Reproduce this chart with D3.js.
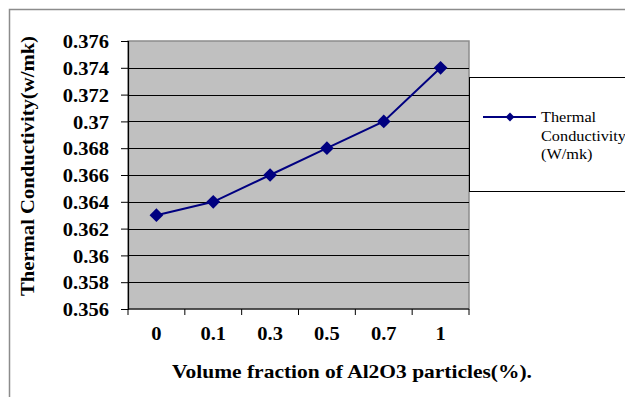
<!DOCTYPE html>
<html lang="en">
<head>
<meta charset="UTF-8">
<title>Thermal Conductivity</title>
<script src="https://cdnjs.cloudflare.com/ajax/libs/d3/7.8.5/d3.min.js"></script>
<style>
  body { margin: 0; background: #fff; }
  svg text { font-family: 'Liberation Serif', 'Times New Roman', Times, serif !important; fill: #000; }
</style>
</head>
<body>
<svg id="chart" width="625" height="397"></svg>
<script>
// data
const categories = ['0', '0.1', '0.3', '0.5', '0.7', '1'];
const conductivity = [0.363, 0.364, 0.366, 0.368, 0.370, 0.374];
const yTicks = [0.356, 0.358, 0.36, 0.362, 0.364, 0.366, 0.368, 0.37, 0.372, 0.374, 0.376];
const seriesName = ['Thermal', 'Conductivity', '(W/mk)'];

const svg = d3.select('#chart');
const plot = { left: 128, right: 469, top: 41, bottom: 309 };

// the reference font renders a bit wider than ours, stretch glyphs a little
function stretch(sel, k) {
    sel.each(function () {
        const w = this.getComputedTextLength();
        d3.select(this).attr('textLength', w * k).attr('lengthAdjust', 'spacingAndGlyphs');
    });
}

// outer frame
svg.append('path')
    .attr('d', 'M9.5,397 V9.5 H625')
    .attr('fill', 'none')
    .attr('stroke', '#8c8c8c')
    .attr('stroke-width', 1.5);

const x = d3.scaleBand().domain(categories).range([plot.left, plot.right]);
const y = d3.scaleLinear().domain([0.356, 0.376]).range([plot.bottom, plot.top]);

svg.append('rect')
    .attr('x', plot.left).attr('y', plot.top)
    .attr('width', plot.right - plot.left).attr('height', plot.bottom - plot.top)
    .attr('fill', '#c0c0c0')
    .attr('stroke', '#8c8c8c')
    .attr('stroke-width', 1.5);

// gridlines
svg.append('g')
    .selectAll('line')
    .data(yTicks.slice(1, -1))
    .join('line')
    .attr('x1', plot.left).attr('x2', plot.right)
    .attr('y1', d => Math.round(y(d)) + 0.5).attr('y2', d => Math.round(y(d)) + 0.5)
    .attr('stroke', '#000')
    .attr('stroke-width', 1);

// y axis
const yAxis = svg.append('g')
    .attr('transform', `translate(${plot.left},0)`)
    .call(d3.axisLeft(y).tickValues(yTicks).tickSize(7).tickPadding(12)
        .tickFormat(d => String(+d.toFixed(3))));
yAxis.attr('font-family', null).attr('font-size', null);
yAxis.selectAll('text')
    .attr('dy', '0.35em')
    .style('font-size', '19px').style('font-weight', 'bold');
yAxis.select('.domain').attr('stroke', '#000').attr('stroke-width', 1.2);
yAxis.selectAll('.tick line').attr('stroke', '#000');
stretch(yAxis.selectAll('text'), 1.08);

// x axis
const bounds = categories.map(c => x(c)).concat([plot.right]);
const xAxis = svg.append('g');
xAxis.append('line')
    .attr('x1', plot.left).attr('x2', plot.right)
    .attr('y1', plot.bottom).attr('y2', plot.bottom)
    .attr('stroke', '#000').attr('stroke-width', 1.2);
xAxis.selectAll('line.tick')
    .data(bounds)
    .join('line')
    .attr('class', 'tick')
    .attr('x1', d => d).attr('x2', d => d)
    .attr('y1', plot.bottom).attr('y2', plot.bottom + 6)
    .attr('stroke', '#000');
const xLabels = xAxis.selectAll('text')
    .data(categories)
    .join('text')
    .attr('x', d => x(d) + x.bandwidth() / 2)
    .attr('y', 340)
    .attr('text-anchor', 'middle')
    .style('font-size', '19px').style('font-weight', 'bold')
    .text(d => d);
stretch(xLabels, 1.08);

// axis titles
svg.append('text')
    .attr('x', 352).attr('y', 378)
    .attr('text-anchor', 'middle')
    .attr('textLength', 360).attr('lengthAdjust', 'spacingAndGlyphs')
    .style('font-size', '19px').style('font-weight', 'bold')
    .text('Volume fraction of Al2O3 particles(%).');

svg.append('text')
    .attr('transform', 'translate(34,166) rotate(-90)')
    .attr('text-anchor', 'middle')
    .attr('textLength', 260).attr('lengthAdjust', 'spacingAndGlyphs')
    .style('font-size', '19px').style('font-weight', 'bold')
    .text('Thermal Conductivity(w/mk)');

// series
const cx = (d, i) => x(categories[i]) + x.bandwidth() / 2;
const line = d3.line().x(cx).y(d => y(d));
svg.append('path')
    .datum(conductivity)
    .attr('d', line)
    .attr('fill', 'none')
    .attr('stroke', '#000080')
    .attr('stroke-width', 2);

const diamond = d3.symbol().type(d3.symbolDiamond2).size(120);
svg.append('g')
    .selectAll('path')
    .data(conductivity)
    .join('path')
    .attr('transform', (d, i) => `translate(${cx(d, i)},${y(d)})`)
    .attr('d', diamond)
    .attr('fill', '#000080');

// legend
const legend = svg.append('g');
legend.append('rect')
    .attr('x', 469.5).attr('y', 77.5)
    .attr('width', 170).attr('height', 114)
    .attr('fill', '#fff')
    .attr('stroke', '#000');
legend.append('line')
    .attr('x1', 483).attr('x2', 536)
    .attr('y1', 117).attr('y2', 117)
    .attr('stroke', '#000080').attr('stroke-width', 2);
legend.append('path')
    .attr('transform', 'translate(510,117)')
    .attr('d', d3.symbol().type(d3.symbolDiamond2).size(50))
    .attr('fill', '#000080');
const legText = legend.selectAll('text.l')
    .data(seriesName)
    .join('text')
    .attr('x', 541)
    .attr('y', (d, i) => 122 + i * 18.5)
    .style('font-size', '15.5px')
    .text(d => d);
stretch(legText, 1.05);
</script>
</body>
</html>
